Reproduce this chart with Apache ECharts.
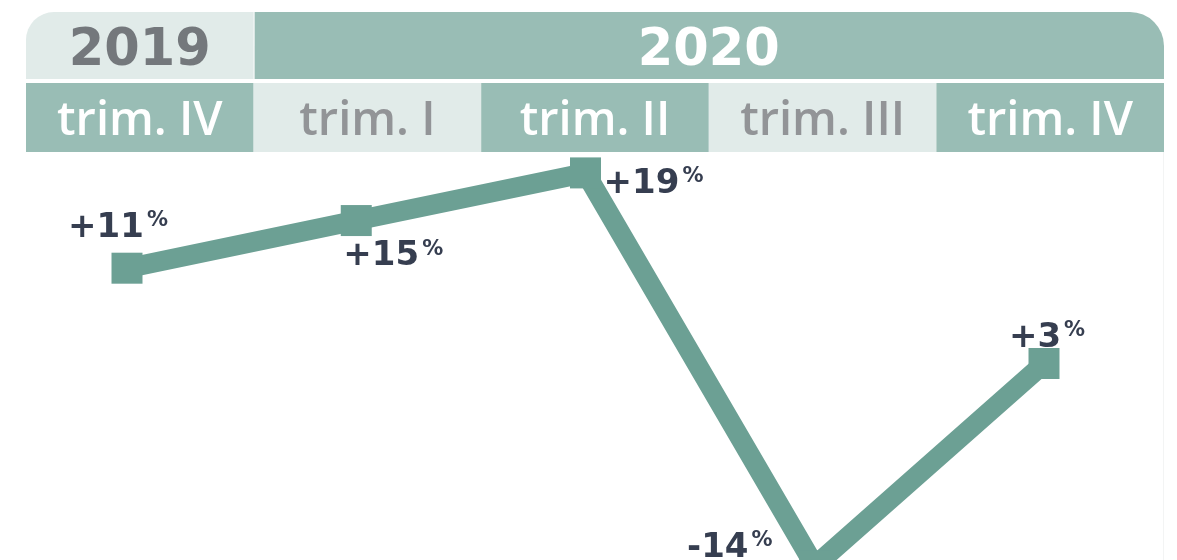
<!DOCTYPE html>
<html>
<head>
<meta charset="utf-8">
<script src="https://cdn.jsdelivr.net/npm/echarts@6/dist/echarts.min.js"></script>
<style>
  html, body { margin: 0; padding: 0; background: #ffffff; }
  #chart { width: 1177px; height: 560px; }
</style>
</head>
<body>
<div id="chart"></div>
<script>
// data
const years = ['2019', '2020'];
const yearSpans = [1, 4];
const quarters = ['trim. IV', 'trim. I', 'trim. II', 'trim. III', 'trim. IV'];
const changes = [11, 15, 19, -14, 3];

// label placement around each marker (dx, dy of the label centre)
const labelOffsets = [[-9, -40], [37, 36], [68, 11], [-85, -18], [3, -25]];

const teal = '#99bdb5';
const pale = '#e1ebe9';
const lineColor = '#6ca094';
const labelColor = '#363e50';

const chart = echarts.init(document.getElementById('chart'));

// header: two rows of boxes
const headerLeft = 26, headerRight = 1164;
const cellW = (headerRight - headerLeft) / quarters.length;
const graphics = [];

let col = 0;
years.forEach((y, i) => {
  const x0 = headerLeft + col * cellW;
  const w = yearSpans[i] * cellW;
  const first = i === 0;
  graphics.push({
    type: 'rect',
    shape: { x: x0 + (first ? 0 : 1), y: 12, width: w - (first ? 0 : 1), height: 67,
             r: first ? [28, 0, 0, 0] : [0, 34, 0, 0] },
    style: { fill: first ? pale : teal },
    silent: true
  });
  graphics.push({
    type: 'text',
    x: x0 + w / 2, y: 52,
    style: {
      text: y, fill: first ? '#74787c' : '#ffffff',
      font: 'bold 51px "DejaVu Sans"', align: 'center', verticalAlign: 'middle'
    },
    silent: true
  });
  col += yearSpans[i];
});

quarters.forEach((q, i) => {
  const x0 = headerLeft + i * cellW;
  const dark = i % 2 === 0;
  graphics.push({
    type: 'rect',
    shape: { x: x0, y: 83, width: cellW, height: 69 },
    style: { fill: dark ? teal : pale },
    silent: true
  });
  graphics.push({
    type: 'text',
    x: x0 + cellW / 2, y: 122,
    style: {
      text: q, fill: dark ? '#ffffff' : '#929497',
      font: '600 47px "Open Sans"', align: 'center', verticalAlign: 'middle'
    },
    silent: true
  });
});

// faint right edge line
graphics.push({
  type: 'line',
  shape: { x1: 1163.5, y1: 152, x2: 1163.5, y2: 560 },
  style: { stroke: '#f3f4f4', lineWidth: 1 },
  silent: true
});

const seriesData = changes.map((v, i) => ({
  value: v,
  label: { offset: labelOffsets[i] }
}));

const option = {
  animation: false,
  backgroundColor: '#ffffff',
  graphic: graphics,
  grid: { left: 127, right: 133, top: 161, bottom: 0 },
  xAxis: {
    type: 'category',
    data: quarters,
    boundaryGap: false,
    show: false
  },
  yAxis: {
    type: 'value',
    min: -13.5,
    max: 20,
    show: false
  },
  series: [{
    type: 'line',
    data: seriesData,
    symbol: 'rect',
    symbolSize: 31,
    clip: false,
    lineStyle: { color: lineColor, width: 20, join: 'miter' },
    itemStyle: { color: lineColor },
    label: {
      show: true,
      position: 'inside',
      align: 'center',
      verticalAlign: 'middle',
      formatter: p => '{v|' + (p.value > 0 ? '+' : '') + p.value + '}{p|%}',
      rich: {
        v: { fontFamily: 'DejaVu Sans', fontWeight: 'bold', fontSize: 34, color: labelColor, lineHeight: 36 },
        p: { fontFamily: 'DejaVu Sans', fontWeight: 'bold', fontSize: 21, color: labelColor, verticalAlign: 'top', lineHeight: 36, padding: [0, 0, 0, 3] }
      }
    }
  }]
};

chart.setOption(option);
</script>
</body>
</html>
